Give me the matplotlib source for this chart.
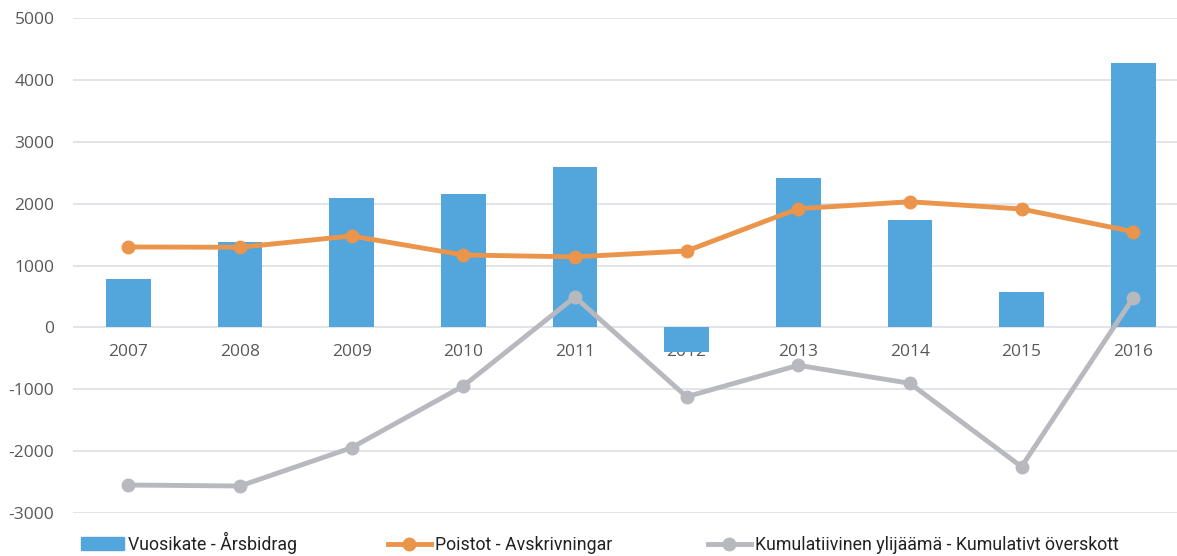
import matplotlib.pyplot as plt
import numpy as np
from matplotlib.lines import Line2D
from matplotlib.patches import Patch

vuodet = ['2007', '2008', '2009', '2010', '2011', '2012', '2013', '2014', '2015', '2016']
vuosikate = [780, 1380, 2090, 2160, 2590, -395, 2415, 1736, 566, 4272]
poistot = [1300, 1295, 1478, 1170, 1140, 1235, 1919, 2032, 1914, 1547]
kumulatiivinen = [-2552, -2568, -1948, -950, 490, -1123, -615, -906, -2256, 474]

nimet = ['Vuosikate - Årsbidrag', 'Poistot - Avskrivningar',
         'Kumulatiivinen ylijäämä - Kumulativt överskott']

sininen = '#52A6DC'
oranssi = '#EB944B'
harmaa = '#B8B9BE'

plt.rcParams['font.family'] = ['Open Sans', 'DejaVu Sans']
plt.rcParams['axes.unicode_minus'] = False

fig = plt.figure(figsize=(11.77, 5.56), dpi=100)
ax = fig.add_axes([72.5 / 1177, 1 - 512.7 / 556, (1189 - 72.5) / 1177, (512.7 - 18.3) / 556])

x = np.arange(len(vuodet))
ax.bar(x, vuosikate, 0.4, color=sininen, zorder=2)
ax.plot(x, poistot, color=oranssi, lw=3.5, marker='o', ms=9, zorder=3)
ax.plot(x, kumulatiivinen, color=harmaa, lw=3.5, marker='o', ms=9, zorder=3)

ax.set_xlim(-0.5, len(vuodet) - 0.5)
ax.set_ylim(-3000, 5000)
ax.set_yticks(range(-3000, 5001, 1000))
ax.yaxis.grid(True, color='#E1E1E8', lw=1.3, zorder=0)
ax.set_axisbelow(True)
for s in ax.spines.values():
    s.set_visible(False)
ax.spines['bottom'].set_position(('data', 0))
ax.set_xticks(x, vuodet)
ax.tick_params(axis='both', length=0, labelsize=12.5, labelcolor='#595959')
ax.tick_params(axis='x', pad=12)
ax.tick_params(axis='y', pad=13)

# selite: kolme erillistä osaa, jotta sarakkeiden paikat osuvat kohdalleen
kahvat = [
    Patch(color=sininen),
    Line2D([], [], color=oranssi, lw=3.5, marker='o', ms=9),
    Line2D([], [], color=harmaa, lw=3.5, marker='o', ms=9),
]
alut = [81, 388, 708]
for kahva, nimi, alku in zip(kahvat, nimet, alut):
    fig.legend([kahva], [nimi], loc='lower left',
               bbox_to_anchor=(alku / 1177, 0.004), frameon=False,
               borderpad=0, borderaxespad=0,
               prop={'family': 'Roboto', 'size': 12.8},
               labelcolor='#222222', handlelength=2.4, handletextpad=0.25)

fig.savefig('out.png', dpi=100)
